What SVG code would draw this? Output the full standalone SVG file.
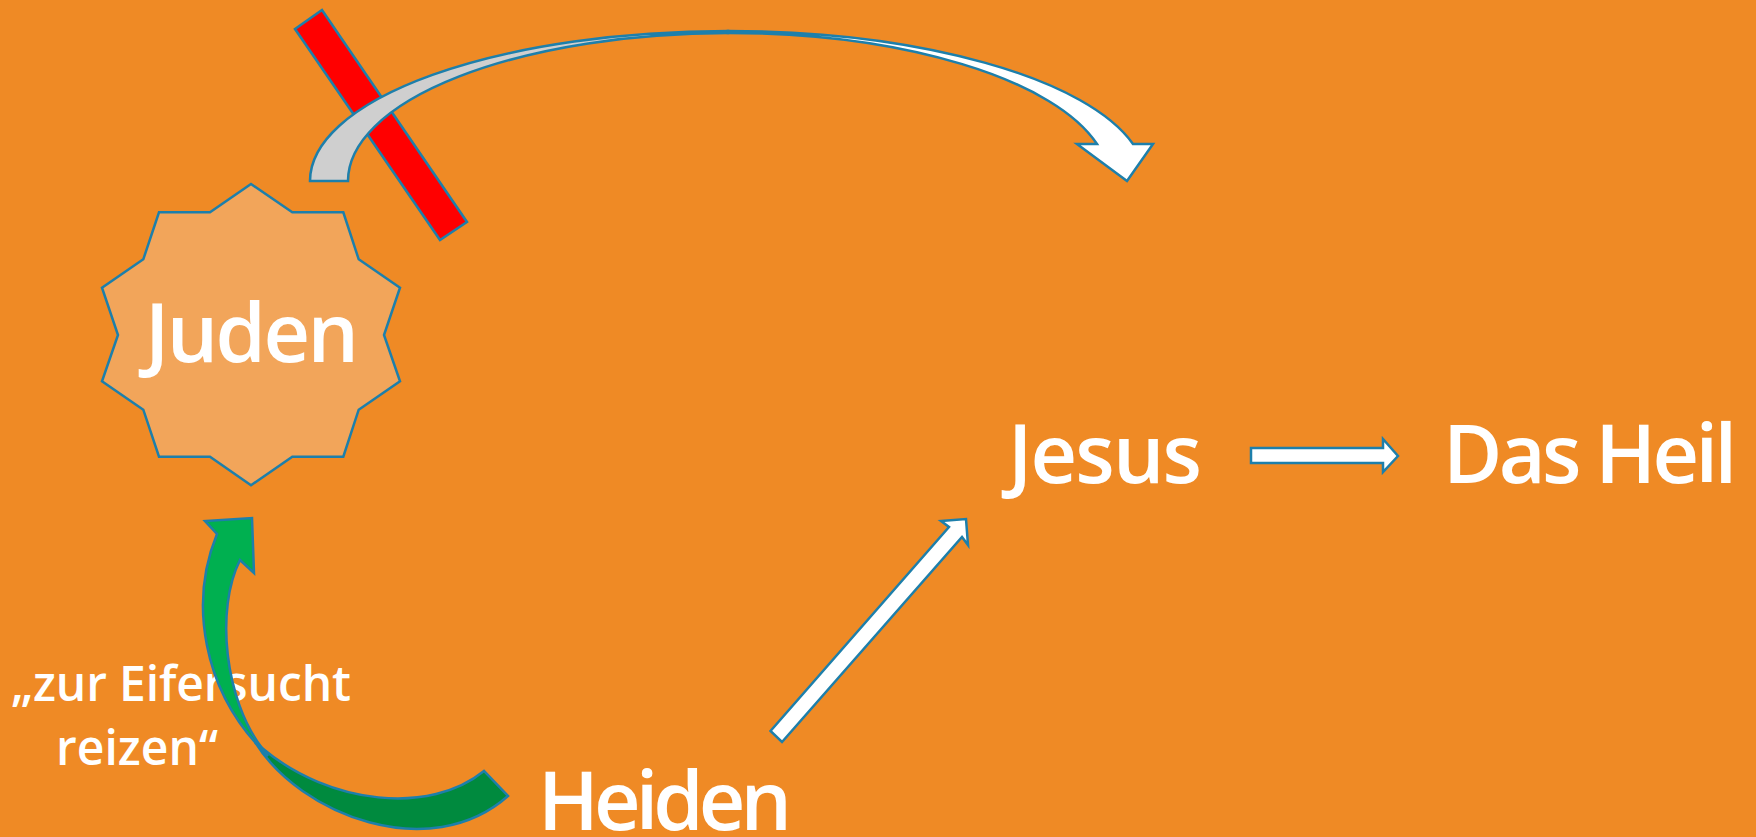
<svg xmlns="http://www.w3.org/2000/svg" width="1756" height="837" viewBox="0 0 1756 837">
<style>
.ol{stroke:#1d7fab;stroke-width:2.5;stroke-linejoin:miter}
.lbl{font-family:"Open Sans","Liberation Sans",sans-serif;font-weight:600;fill:#ffffff}
.big{font-size:81px}
.small{font-size:48px}
</style>
<rect x="0" y="0" width="1756" height="837" fill="#EF8A25"/>
<g id="juden">
<polygon class="ol" fill="#F2A55A" points="251,184 292.3,212.3 343.3,212.3 358.7,259.3 400,287.7 384,335 400,381.3 358.7,409.7 343.3,456.7 292.3,456.7 251,485.3 210,456.7 159,456.7 143.3,409.7 102,381.3 118,335 102,287.7 143.3,259.3 159,212.3 210,212.3"/>
<text class="lbl big" x="252" y="362" text-anchor="middle" textLength="214">Juden</text>
</g>
<g id="blocked">
<polygon class="ol" fill="#FF0000" points="295,29 322,10 467,222 440,240"/>
</g>
<g id="jesus"><text class="lbl big" x="1105" y="483" text-anchor="middle" textLength="194">Jesus</text></g>
<g id="heil"><text class="lbl big" x="1590" y="483" text-anchor="middle" textLength="294">Das Heil</text></g>
<g id="heiden"><text class="lbl big" x="665" y="830" text-anchor="middle" textLength="254">Heiden</text></g>
<g id="eifersucht">
<text class="lbl small" x="181" y="701" text-anchor="middle" textLength="340">„zur Eifersucht</text>
<text class="lbl small" x="137" y="765" text-anchor="middle" textLength="162">reizen“</text>
</g>
<g id="connectors">
<path class="ol" fill="#CFCFCF" d="M310,181 A418,150 0 0 1 728,31 L728,33 A380.5,148 0 0 0 348,181 Z"/>
<path class="ol" fill="#FFFFFF" d="M728,31 A418,150 0 0 1 1133,144 L1153,144 L1127,181 L1077,144 L1097,144 A380.5,148 0 0 0 728,33 Z"/>
<path class="ol" fill="#008A3E" stroke-width="2" d="M484,771 C430,815 330,805 262,748 L255,742 C300,815 430,865 508,796 Z"/>
<path class="ol" fill="#00B050" stroke-width="2" d="M217,534 C190,600 200,690 268,756 L262,748 C225,700 215,610 240,560 L254,573 L252,518 L205,521 Z"/>
<polygon class="ol" fill="#FFFFFF" points="770.5,731 949,527 941,521 966,519 968,545 962,537 782,742"/>
<polygon class="ol" fill="#FFFFFF" points="1251,448 1383,448 1383,439 1398,456 1383,472 1383,463 1251,463"/>
</g>
</svg>
